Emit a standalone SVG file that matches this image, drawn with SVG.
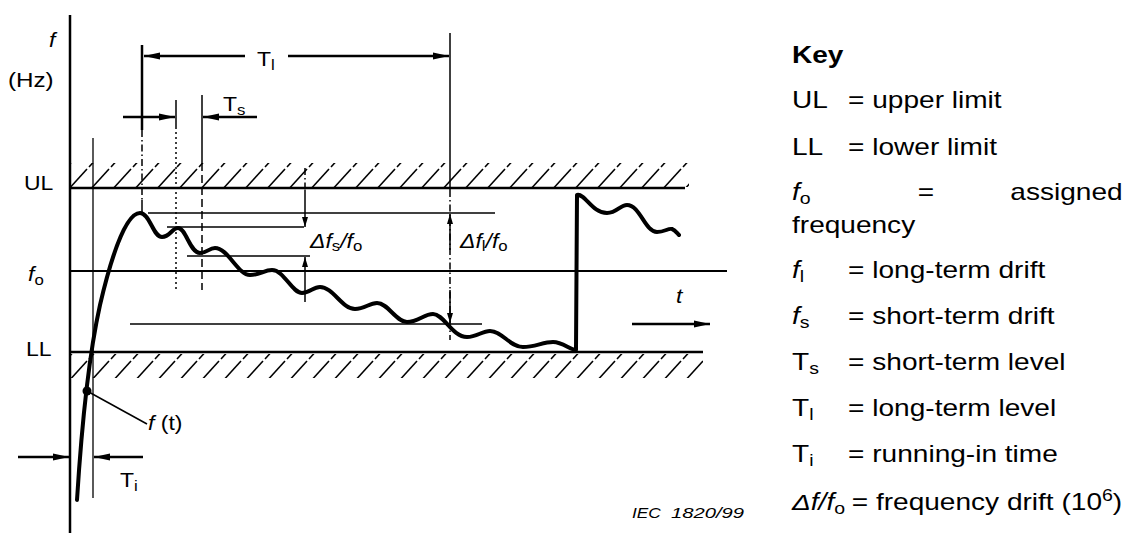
<svg xmlns="http://www.w3.org/2000/svg" width="1128" height="533" viewBox="0 0 1128 533">
<defs>
<style>
.ln{stroke:#000;fill:none;stroke-width:1.5}
.th{stroke:#000;fill:none;stroke-width:2.5}
.cv{stroke:#000;fill:none;stroke-width:4;stroke-linejoin:round;stroke-linecap:round}
.dd{stroke-dasharray:7 3 1.5 3}
.dt{stroke-dasharray:2 3}
.ds{stroke-dasharray:8 4}
text{font-family:"Liberation Sans",Arial,sans-serif;fill:#000}
.lb{font-size:20.5px}
.ky{font-size:23px}
.it{font-style:italic}
.sb{font-size:15px}
.ks{font-size:16px}
</style>
<marker id="ah" viewBox="0 0 16 8" refX="16" refY="4" markerWidth="16" markerHeight="8" markerUnits="userSpaceOnUse" orient="auto">
<path d="M0,0.5 L16,4 L0,7.5 Z" fill="#000"/>
</marker>
<marker id="as" viewBox="0 0 10 6" refX="10" refY="3" markerWidth="10" markerHeight="6" markerUnits="userSpaceOnUse" orient="auto">
<path d="M0,0 L10,3 L0,6 Z" fill="#000"/>
</marker>
<pattern id="hatch" patternUnits="userSpaceOnUse" width="22" height="24">
<path d="M1,23 L21,1" stroke="#000" stroke-width="1.6"/>
</pattern>
</defs>

<g id="axes">
<line class="th" x1="70" y1="15" x2="70" y2="533"/>
<rect x="71" y="163" width="618" height="24" fill="url(#hatch)"/>
<line class="th" x1="70" y1="188" x2="685" y2="188"/>
<rect x="71" y="354" width="632" height="24" fill="url(#hatch)"/>
<line class="th" x1="70" y1="352" x2="703" y2="352"/>
<line x1="70" y1="271" x2="727" y2="271" stroke="#000" stroke-width="2"/>
</g>

<g id="reference-lines">
<line class="ln" x1="148" y1="213" x2="495" y2="213"/>
<line class="ln" x1="167" y1="227" x2="304" y2="227"/>
<line class="ln" x1="187" y1="256" x2="310" y2="256"/>
<line class="ln" x1="130" y1="324" x2="482" y2="324"/>
</g>

<g id="connectors">
<line class="th" x1="142" y1="45" x2="142" y2="130"/>
<line class="ln dd" x1="142" y1="130" x2="142" y2="200"/>
<line class="ln" x1="142" y1="200" x2="142" y2="213"/>
<line class="th" x1="245" y1="56" x2="144" y2="56" marker-end="url(#ah)"/>
<line class="th" x1="288" y1="56" x2="449" y2="56" marker-end="url(#ah)"/>
<line class="ln" x1="450" y1="33" x2="450" y2="190"/>
<line class="ln dd" x1="450" y1="190" x2="450" y2="340"/>
<line class="ln" x1="450" y1="250" x2="450" y2="214" marker-end="url(#as)"/>
<line class="ln" x1="450" y1="290" x2="450" y2="323" marker-end="url(#as)"/>
<line class="ln" x1="176" y1="100" x2="176" y2="127"/>
<line class="ln dt" x1="176" y1="127" x2="176" y2="290"/>
<line class="ln" x1="202" y1="95" x2="202" y2="163"/>
<line class="ln ds" x1="202" y1="163" x2="202" y2="290"/>
<line class="th" x1="123" y1="117" x2="175" y2="117" marker-end="url(#ah)"/>
<line class="th" x1="257" y1="117" x2="203" y2="117" marker-end="url(#ah)"/>
<line class="ln dd" x1="305" y1="168" x2="305" y2="190"/>
<line class="ln" x1="305" y1="190" x2="305" y2="227" marker-end="url(#as)"/>
<line class="ln" x1="305" y1="302" x2="305" y2="257" marker-end="url(#as)"/>
<line x1="93" y1="138" x2="93" y2="498" stroke="#000" stroke-width="1.3"/>
<line class="th" x1="18" y1="457" x2="69" y2="457" marker-end="url(#ah)"/>
<line class="th" x1="143" y1="457" x2="94" y2="457" marker-end="url(#ah)"/>
<line class="th" x1="632" y1="324" x2="710" y2="324" marker-end="url(#ah)"/>
<line class="ln" x1="87" y1="391" x2="147" y2="424"/>
</g>

<g id="curve">
<path class="cv" d="M77,500 C82,420 90,350 100,305 C110,262 125,213 140,213 C150,213 153,237 162,237 C170,237 172,228 178,228 C186,228 190,253 200,253 C207,253 209,248 215,248 C228,248 238,275 250,275 C260,275 264,270 272,270 C284,270 292,293 302,293 C310,293 313,287 320,287 C333,287 342,309 355,309 C365,309 369,303 377,303 C388,303 396,322 407,322 C418,322 424,314 433,314 C444,314 452,337 467,337 C477,337 482,331 490,331 C502,331 510,347 523,347 C535,347 543,342 553,342 C563,342 570,350 576,350 L577,195 C585,193 592,213 607,213 C617,213 620,205 627,205 C640,205 645,232 657,232 C665,232 668,228 672,229 C675,230 677,233 679,235"/>
<circle cx="87" cy="391" r="4.5" fill="#000"/>
</g>

<g id="labels">
<text class="lb it" transform="translate(49 47) scale(1.12 1)">f</text>
<text class="lb" transform="translate(8 87) scale(1.18 1)">(Hz)</text>
<text class="lb" transform="translate(24 190) scale(1.12 1)">UL</text>
<text class="lb" transform="translate(28 281) scale(1.12 1)"><tspan class="it">f</tspan><tspan class="sb" dy="4">o</tspan></text>
<text class="lb" transform="translate(26 356) scale(1.12 1)">LL</text>
<text class="lb" transform="translate(257 66) scale(1.12 1)">T<tspan class="sb" dy="4">l</tspan></text>
<text class="lb" transform="translate(223 111) scale(1.12 1)">T<tspan class="sb" dy="4">s</tspan></text>
<text class="lb" transform="translate(120 487) scale(1.12 1)">T<tspan class="sb" dy="4">i</tspan></text>
<text class="lb" transform="translate(148 430) scale(1.12 1)"><tspan class="it">f</tspan> (t)</text>
<text class="lb it" transform="translate(676 303) scale(1.12 1)">t</text>
<text class="lb" transform="translate(310 248) scale(1.12 1)"><tspan class="it">Δf</tspan><tspan class="sb" dy="3">s</tspan><tspan class="it" dy="-3">/f</tspan><tspan class="sb" dy="3">o</tspan></text>
<text class="lb" transform="translate(460 248) scale(1.12 1)"><tspan class="it">Δf</tspan><tspan class="sb" dy="3">l</tspan><tspan class="it" dy="-3">/f</tspan><tspan class="sb" dy="3">o</tspan></text>
<text class="it" font-size="15" transform="translate(632 518) scale(1.15 1)">IEC</text>
<text class="it" font-size="15" transform="translate(671 518) scale(1.35 1)">1820/99</text>
</g>

<g id="key" transform="translate(792 0) scale(1.22 1)">
<text class="ky" x="0" y="63" font-weight="bold">Key</text>
<text class="ky" x="0" y="108">UL</text><text class="ky" x="46" y="108">= upper limit</text>
<text class="ky" x="0" y="155">LL</text><text class="ky" x="46" y="155">= lower limit</text>
<text class="ky" x="0" y="200"><tspan class="it">f</tspan><tspan class="ks" dy="4">o</tspan></text>
<text class="ky" x="103" y="200">=</text>
<text class="ky" x="271" y="200" text-anchor="end">assigned</text>
<text class="ky" x="0" y="233">frequency</text>
<text class="ky" x="0" y="278"><tspan class="it">f</tspan><tspan class="ks" dy="4">l</tspan></text><text class="ky" x="46" y="278">= long-term drift</text>
<text class="ky" x="0" y="324"><tspan class="it">f</tspan><tspan class="ks" dy="4">s</tspan></text><text class="ky" x="46" y="324">= short-term drift</text>
<text class="ky" x="0" y="370">T<tspan class="ks" dy="4">s</tspan></text><text class="ky" x="46" y="370">= short-term level</text>
<text class="ky" x="0" y="416">T<tspan class="ks" dy="4">l</tspan></text><text class="ky" x="46" y="416">= long-term level</text>
<text class="ky" x="0" y="462">T<tspan class="ks" dy="4">i</tspan></text><text class="ky" x="46" y="462">= running-in time</text>
<text class="ky" x="0" y="510"><tspan class="it">Δf/f</tspan><tspan class="ks" dy="4">o</tspan></text><text class="ky" x="49" y="510">= frequency drift (10<tspan class="ks" dy="-9">6</tspan><tspan dy="9">)</tspan></text>
</g>
</svg>
